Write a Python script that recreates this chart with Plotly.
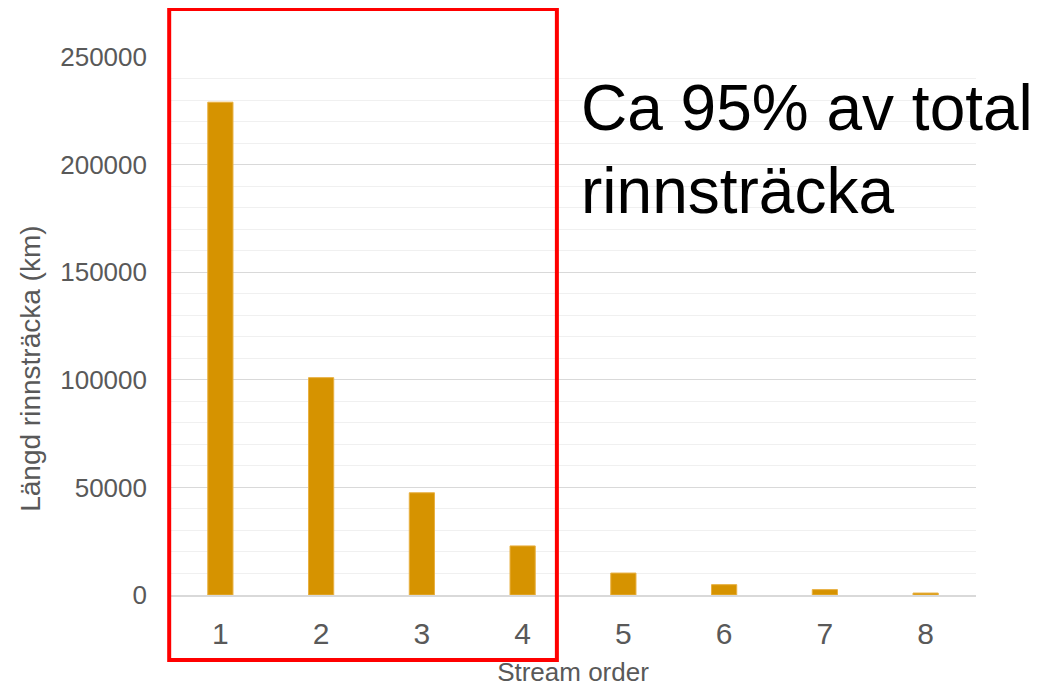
import plotly.graph_objects as go

stream_order = ["1", "2", "3", "4", "5", "6", "7", "8"]
length_km = [229000, 101000, 47500, 22800, 10200, 4800, 2500, 900]
y_ticks = [0, 50000, 100000, 150000, 200000, 250000]

fig = go.Figure()
fig.add_trace(go.Bar(
    x=stream_order, y=length_km,
    marker=dict(color="#D69300", line=dict(color="#E8B040", width=1)),
    width=0.25,
))

fig.update_layout(
    width=1038, height=687,
    margin=dict(l=162, r=70, t=49, b=100, autoexpand=False),
    paper_bgcolor="white", plot_bgcolor="white",
    font=dict(family="Liberation Sans, Arial, sans-serif", color="#595959"),
    showlegend=False,
    xaxis=dict(
        title=dict(text="Stream order", font=dict(size=26, color="#595959"), standoff=14),
        tickfont=dict(size=30, color="#595959"),
        showgrid=False, showline=True, linecolor="#d9d9d9", linewidth=2,
        ticks="", ticklabelstandoff=11, automargin=False,
    ),
    yaxis=dict(
        range=[0, 250000], tickvals=y_ticks, ticktext=[str(v) for v in y_ticks],
        tickfont=dict(size=26, color="#595959"),
        showgrid=True, gridcolor="#d9d9d9", gridwidth=1,
        minor=dict(dtick=10000, showgrid=True, gridcolor="#f0f0f0", gridwidth=1),
        zeroline=False, ticks="", ticklabelstandoff=22, automargin=False,
    ),
)

fig.add_annotation(xref="paper", yref="paper", x=-0.174, y=0.42,
                   xanchor="center", yanchor="middle", textangle=-90, showarrow=False,
                   text="Längd rinnsträcka (km)",
                   font=dict(size=28, color="#595959", family="Liberation Sans, Arial, sans-serif"))

fig.add_shape(type="rect", xref="paper", yref="paper",
              x0=-0.001, x1=0.480, y0=-0.121, y1=1.089,
              line=dict(color="#FF0000", width=4))

fig.add_annotation(xref="paper", yref="paper", x=0.508, y=0.975,
                   xanchor="left", yanchor="top", align="left", showarrow=False,
                   text="Ca 95% av total<br>rinnsträcka",
                   font=dict(size=64, color="black", family="Liberation Sans, Arial, sans-serif"))

fig.write_html("out.html")
